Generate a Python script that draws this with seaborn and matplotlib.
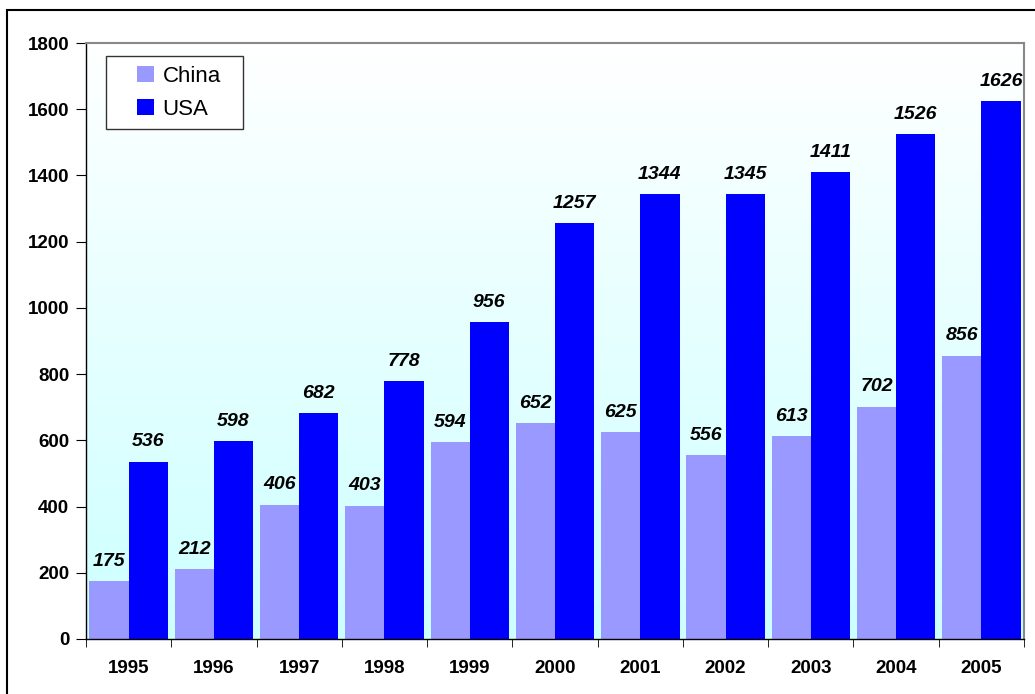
import numpy as np
import pandas as pd
import seaborn as sns
import matplotlib.pyplot as plt
from matplotlib.patches import Rectangle
from matplotlib.colors import LinearSegmentedColormap

YEARS = ["1995", "1996", "1997", "1998", "1999", "2000", "2001", "2002", "2003", "2004", "2005"]
CHINA = [175, 212, 406, 403, 594, 652, 625, 556, 613, 702, 856]
USA = [536, 598, 682, 778, 956, 1257, 1344, 1345, 1411, 1526, 1626]

sns.set_style("white")
plt.rcParams['font.family'] = ['Liberation Sans', 'DejaVu Sans']
plt.rcParams['text.color'] = 'black'
plt.rcParams['xtick.color'] = 'black'
plt.rcParams['ytick.color'] = 'black'

df = pd.DataFrame({
    "year": YEARS * 2,
    "value": CHINA + USA,
    "country": ["China"] * len(YEARS) + ["USA"] * len(YEARS),
})

fig = plt.figure(figsize=(10.35, 6.94), dpi=100)
ax = fig.add_axes([0.0831, 0.0793, 0.9063, 0.8587])

# outer frame (right/bottom edges run off the picture)
fig.patches.append(Rectangle((7 / 1035, -0.05), 1.1, (684 / 694) + 0.05, transform=fig.transFigure,
                             fill=False, edgecolor="black", linewidth=1.5))

sns.barplot(data=df, x="year", y="value", hue="country", palette=["#9999ff", "#0000ff"],
            width=0.92, saturation=1, linewidth=0, ax=ax, zorder=2)

ax.set_xlim(-0.5, len(YEARS) - 0.5)
ax.set_ylim(0, 1800)
ax.set_yticks(range(0, 1801, 200))
ax.set_xlabel("")
ax.set_ylabel("")

# gradient background: white at top, light cyan at bottom
cmap = LinearSegmentedColormap.from_list("bg", ["#ffffff", "#ccffff"])
grad = np.linspace(0, 1, 256).reshape(-1, 1)
ax.imshow(grad, cmap=cmap, aspect="auto", origin="upper",
          extent=[-0.5, len(YEARS) - 0.5, 0, 1800], zorder=0)
ax.set_ylim(0, 1800)
ax.set_xlim(-0.5, len(YEARS) - 0.5)

for cont in ax.containers:
    ax.bar_label(cont, fmt="%d", padding=8, fontsize=14, fontweight="bold", fontstyle="italic",
                 color="black")

ax.set_xticks(np.arange(-0.5, len(YEARS), 1), minor=True)
ax.tick_params(axis="x", which="major", length=0, pad=15, labelsize=13.5, labelcolor="black")
ax.tick_params(axis="x", which="minor", length=6, direction="out", bottom=True, color="black")
ax.tick_params(axis="y", length=7, direction="out", left=True, labelsize=13.5, pad=5,
               labelcolor="black", color="black")
for lab in ax.get_xticklabels() + ax.get_yticklabels():
    lab.set_fontweight("bold")

for s in ["top", "right"]:
    ax.spines[s].set_color("#888888")
    ax.spines[s].set_linewidth(1.5)
for s in ["left", "bottom"]:
    ax.spines[s].set_color("black")
    ax.spines[s].set_linewidth(1)

# legend box drawn by hand for the wide left padding
ax.add_patch(Rectangle((0.0213, 0.856), 0.1461, 0.122, transform=ax.transAxes,
                       facecolor="white", edgecolor="#333333", linewidth=1, zorder=4))
leg = ax.legend(loc="upper left", bbox_to_anchor=(0.0544, 0.962), fontsize=16, frameon=False,
                handlelength=0.75, handleheight=0.75, borderpad=0, labelspacing=0.55,
                borderaxespad=0, handletextpad=0.4)
for t in leg.get_texts():
    t.set_color("black")
leg.set_zorder(5)
leg.set_title(None)

fig.savefig("out.png", dpi=100)
